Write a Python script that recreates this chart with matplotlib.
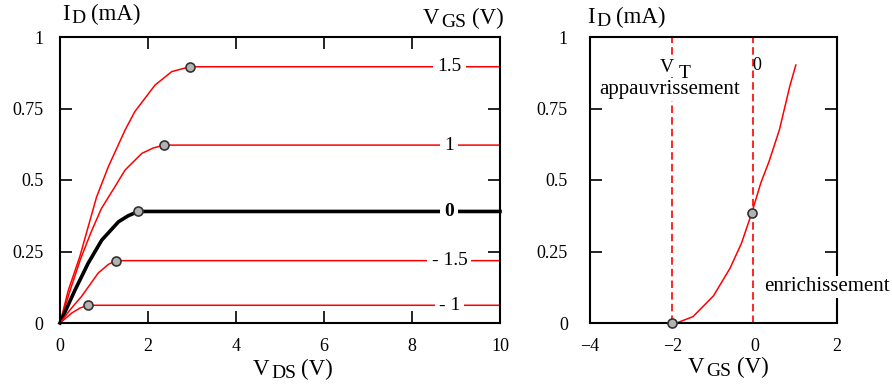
import matplotlib
matplotlib.use('Agg')
import matplotlib.pyplot as plt

plt.rcParams['font.family'] = ['Liberation Serif', 'DejaVu Serif']

# output characteristics ID(VDS), one curve per VGS value
vgs_labels = ['1.5', '1', '0', '- 1.5', '- 1']
vds_curves = [
    [0, 0.19, 0.45, 0.83, 1.10, 1.48, 1.70, 2.16, 2.54, 2.95, 10],
    [0, 0.24, 0.47, 0.71, 0.94, 1.25, 1.48, 1.86, 2.12, 2.37, 10],
    [0, 0.34, 0.64, 0.95, 1.33, 1.55, 1.78, 10],
    [0, 0.25, 0.49, 0.87, 1.10, 1.27, 10],
    [0, 0.27, 0.45, 0.63, 10],
]
id_curves = [
    [0, 0.115, 0.232, 0.44, 0.547, 0.675, 0.739, 0.832, 0.879, 0.896, 0.896],
    [0, 0.119, 0.225, 0.319, 0.40, 0.477, 0.535, 0.593, 0.612, 0.622, 0.622],
    [0, 0.115, 0.209, 0.29, 0.354, 0.375, 0.39, 0.39],
    [0, 0.05, 0.093, 0.175, 0.205, 0.218, 0.218],
    [0, 0.035, 0.052, 0.062, 0.062],
]
sat_vds = [2.95, 2.37, 1.78, 1.27, 0.63]
sat_id = [0.896, 0.622, 0.39, 0.218, 0.062]

# transfer characteristic ID(VGS)
vgs = [-3.0, -2.0, -1.9, -1.5, -1.0, -0.6, -0.32, -0.07, 0.15, 0.35, 0.6, 0.85, 1.0]
id_t = [0, 0, 0, 0.022, 0.095, 0.191, 0.279, 0.385, 0.49, 0.565, 0.675, 0.826, 0.902]
vt = -2.0
v0 = -0.03
dots_vgs = [-2.0, -0.07]
dots_id = [0, 0.385]

W, H = 892, 384
fig = plt.figure(figsize=(W / 100, H / 100), dpi=100)
ax1 = fig.add_axes([60 / W, 61 / H, 440 / W, 286 / H])
ax2 = fig.add_axes([590 / W, 61 / H, 247 / W, 286 / H])
renderer = fig.canvas.get_renderer()


def sub_label(x_px, base_px, main, sub, rest):
    # main letter, lowered subscript, then the unit, all at pixel positions
    t1 = fig.text(x_px / W, 1 - base_px / H, main, fontsize=16.5, va='baseline')
    x2 = t1.get_window_extent(renderer).x1 + 2
    t2 = fig.text(x2 / W, 1 - (base_px + 3) / H, sub, fontsize=14, va='baseline')
    x3 = t2.get_window_extent(renderer).x1 + 5
    fig.text(x3 / W, 1 - base_px / H, rest, fontsize=16.5, va='baseline')


for ax in (ax1, ax2):
    for s in ax.spines.values():
        s.set_linewidth(1.5)
    ax.set_ylim(0, 1)
    ax.set_yticks([0, 0.25, 0.5, 0.75, 1])
    ax.set_yticklabels(['0', '0.25', '0.5', '0.75', '1'])
    ax.tick_params(direction='in', length=8.5, width=1.2, labelsize=13,
                   top=True, right=True)

# left plot
ax1.set_xlim(0, 10)
ax1.set_xticks([0, 2, 4, 6, 8, 10])
ax1.tick_params(axis='y', pad=12)
ax1.tick_params(axis='x', pad=11)
for i in range(len(vgs_labels)):
    black = vgs_labels[i] == '0'
    ax1.plot(vds_curves[i], id_curves[i], color='black' if black else 'red',
             lw=2.6 if black else 1.1, zorder=2, clip_on=False)
    ax1.text(8.85, sat_id[i], vgs_labels[i], ha='center', va='center',
             fontsize=14, fontweight='bold' if black else 'normal',
             bbox=dict(fc='white', ec='none', pad=3), zorder=3)
ax1.plot(sat_vds, sat_id, 'o', ms=6.5, mfc='#b3b3b3', mec='#333333',
         mew=1.2, zorder=4)

# right plot
ax2.set_xlim(-4, 2)
ax2.set_xticks([-4, -2, 0, 2])
ax2.tick_params(axis='x', length=0, pad=11)
ax2.tick_params(axis='y', pad=16)
ax2.axvline(vt, color='red', lw=1.2, ls=(0, (4.5, 2.5)))
ax2.axvline(v0, color='red', lw=1.2, ls=(0, (4.5, 2.5)))
ax2.plot(vgs, id_t, color='red', lw=1.1, zorder=2)
ax2.plot(dots_vgs, dots_id, 'o', ms=6.5, mfc='#b3b3b3', mec='#333333',
         mew=1.2, zorder=4, clip_on=False)
ax2.text(-2.3, 0.895, 'V', ha='left', va='center', fontsize=14,
         bbox=dict(fc='white', ec='none', pad=1))
ax2.text(-1.84, 0.872, 'T', ha='left', va='center', fontsize=14,
         bbox=dict(fc='white', ec='none', pad=1))
ax2.text(-3.78, 0.815, 'appauvrissement', ha='left', va='center', fontsize=15,
         bbox=dict(fc='white', ec='none', pad=1))
ax2.text(0.04, 0.9, '0', ha='center', va='center', fontsize=13)
ax2.text(0.23, 0.126, 'enrichissement', ha='left', va='center', fontsize=15,
         bbox=dict(fc='white', ec='none', pad=1))

# axis titles with subscripts
sub_label(62, 20, 'I', 'D', '(mA)')
sub_label(423, 24, 'V', 'GS', '(V)')
sub_label(253, 375, 'V', 'DS', '(V)')
sub_label(587, 23, 'I', 'D', '(mA)')
sub_label(688, 373, 'V', 'GS', '(V)')

fig.savefig('out.png', dpi=100)
